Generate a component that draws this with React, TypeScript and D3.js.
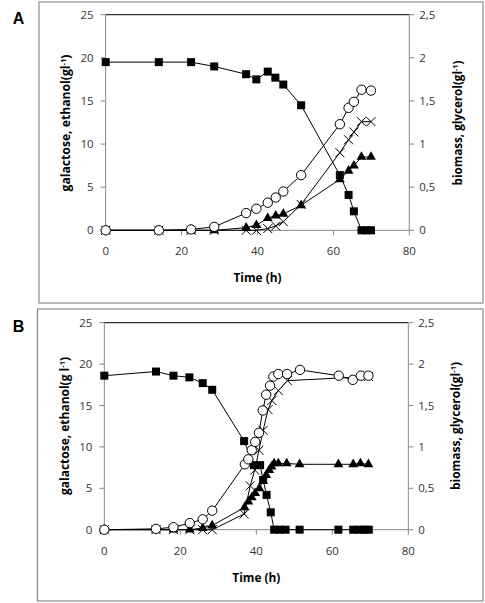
import React from "react";
import * as d3 from "d3";

// ---------- Panel A data ----------
const timeA_gal = [0, 14, 22.5, 28.6, 37, 39.7, 42.7, 44.7, 46.8, 51.5, 61.7, 64, 65.4, 67.4, 68.7, 69.9];
const galactoseA = [19.5, 19.5, 19.5, 19.0, 18.1, 17.5, 18.4, 17.7, 16.9, 14.5, 6.4, 4.1, 2.2, 0, 0, 0];
const timeA = [0, 14, 22.5, 28.6, 37, 39.7, 42.7, 44.8, 46.8, 51.5, 61.7, 64, 65.4, 67.4, 69.9];
const ethanolA = [0, 0, 0, 0, 0.3, 0.6, 1.4, 1.7, 1.9, 2.9, 5.9, 6.9, 7.5, 8.5, 8.5];
const biomassA = [0, 0, 0.01, 0.04, 0.2, 0.25, 0.32, 0.38, 0.45, 0.64, 1.23, 1.42, 1.49, 1.63, 1.62];
const glycerolA = [0, 0, 0, 0, 0, 0, 0.02, 0.05, 0.1, 0.3, 0.9, 1.05, 1.14, 1.26, 1.26];

// ---------- Panel B data ----------
const timeB_gal = [0, 13.6, 18.2, 22.4, 25.9, 28.4, 36.8, 39.4, 41, 41.8, 42.7, 43.8, 44.7, 46.2, 47.7, 51.4, 61.6, 65.5, 67.2, 68.5, 69.6];
const galactoseB = [18.6, 19.1, 18.6, 18.4, 17.7, 16.9, 10.7, 7.8, 7.8, 6.0, 4.2, 2.1, 0, 0, 0, 0, 0, 0, 0, 0, 0];
const timeB_bio = [0, 13.6, 18.2, 22.5, 25.9, 28.4, 37, 37.9, 38.8, 39.7, 40.7, 41.7, 42.6, 43.6, 44.5, 45.8, 48.1, 51.5, 61.7, 65.4, 67.5, 69.5];
const biomassB = [0, 0.01, 0.03, 0.08, 0.125, 0.23, 0.79, 0.85, 0.96, 1.06, 1.17, 1.44, 1.63, 1.74, 1.85, 1.88, 1.88, 1.93, 1.86, 1.81, 1.86, 1.86];
const timeB_gly = [0, 13.6, 18.2, 22.5, 25.9, 28.4, 36.8, 38.4, 39.6, 40.7, 41.8, 43.1, 44.1, 45.8, 48.2, 69.5];
const glycerolB = [0, 0, 0, 0, 0, 0, 0.19, 0.53, 0.72, 0.96, 1.2, 1.45, 1.56, 1.68, 1.8, 1.85];
const timeB_eth = [0, 13.6, 18.2, 22.5, 25.9, 28.4, 36.9, 37.9, 38.8, 39.7, 40.8, 41.8, 42.6, 43.4, 44, 44.7, 45.8, 48, 51.4, 61.6, 65.5, 67.4, 69.5];
const ethanolB = [0, 0, 0, 0, 0.2, 0.5, 2.7, 3.4, 3.9, 4.4, 5.0, 5.9, 6.6, 7.2, 7.6, 8.0, 8.0, 8.0, 7.9, 7.9, 7.9, 8.0, 7.9];

// ---------- ticks ----------
const xTicks = [0, 20, 40, 60, 80];
const leftTicks = [0, 5, 10, 15, 20, 25];
const rightTicks = [0, 0.5, 1, 1.5, 2, 2.5];
const rightTickLabels = ["0", "0,5", "1", "1,5", "2", "2,5"];

const zip = (xs: number[], ys: number[]) => xs.map((x, i) => [x, ys[i]] as [number, number]);

const AXIS = "#868686";
const FONT = "'Open Sans', 'DejaVu Sans', sans-serif";

type PanelProps = {
  letter: string;
  box: [number, number, number, number];
  x0: number; x1: number; yTop: number; yBot: number;
  gal: [number, number][];
  eth: [number, number][];
  bio: [number, number][];
  gly: [number, number][];
  leftTitle: string; leftLen: number; leftX: number;
  rightTitle: string; rightLen: number; rightX: number;
  titleY: number;
};

function Panel(p: PanelProps) {
  const x = d3.scaleLinear().domain([0, 80]).range([p.x0, p.x1]);
  const yL = d3.scaleLinear().domain([0, 25]).range([p.yBot, p.yTop]);
  const yR = d3.scaleLinear().domain([0, 2.5]).range([p.yBot, p.yTop]);
  const lineL = d3.line<[number, number]>().x((d) => x(d[0])).y((d) => yL(d[1]));
  const lineR = d3.line<[number, number]>().x((d) => x(d[0])).y((d) => yR(d[1]));
  const tri = d3.symbol().type(d3.symbolTriangle).size(42)() as string;
  const cross = "M-4.5,-4.5L4.5,4.5M-4.5,4.5L4.5,-4.5";
  const midX = (p.x0 + p.x1) / 2;

  return (
    <g>
      <rect x={p.box[0]} y={p.box[1]} width={p.box[2]} height={p.box[3]} fill="none" stroke="#8a8a8a" strokeWidth={1.2} />
      <text x={18.5} y={p.yTop + 9.5} textAnchor="middle" fontFamily="Arial, 'Liberation Sans', sans-serif" fontWeight="bold" fontSize={16} fill="#000">{p.letter}</text>

      {/* axes */}
      <line x1={p.x0} x2={p.x1} y1={p.yTop} y2={p.yTop} stroke="#000" strokeWidth={1} />
      <line x1={p.x0} x2={p.x0} y1={p.yTop} y2={p.yBot} stroke={AXIS} strokeWidth={1} />
      <line x1={p.x1} x2={p.x1} y1={p.yTop} y2={p.yBot} stroke={AXIS} strokeWidth={1} />
      <line x1={p.x0} x2={p.x1} y1={p.yBot} y2={p.yBot} stroke={AXIS} strokeWidth={1} />
      {leftTicks.map((t) => (
        <g key={"l" + t}>
          <line x1={p.x0 - 5} x2={p.x0} y1={yL(t)} y2={yL(t)} stroke={AXIS} />
          <text x={p.x0 - 12} y={yL(t) + 4} textAnchor="end" fontFamily={FONT} fontSize={11.5} fill="#333">{t}</text>
        </g>
      ))}
      {rightTicks.map((t, i) => (
        <g key={"r" + t}>
          <line x1={p.x1} x2={p.x1 + 5} y1={yR(t)} y2={yR(t)} stroke={AXIS} />
          <text x={p.x1 + 10} y={yR(t) + 4} textAnchor="start" fontFamily={FONT} fontSize={11.5} fill="#333">{rightTickLabels[i]}</text>
        </g>
      ))}
      {xTicks.map((t) => (
        <g key={"x" + t}>
          <line x1={x(t)} x2={x(t)} y1={p.yBot} y2={p.yBot + 5} stroke={AXIS} />
          <text x={x(t)} y={p.yBot + 25} textAnchor="middle" fontFamily={FONT} fontSize={11.5} fill="#333">{t}</text>
        </g>
      ))}
      <text x={midX} y={p.yBot + 52} textAnchor="middle" fontFamily={FONT} fontWeight="bold" fontSize={12.5} textLength={48} lengthAdjust="spacingAndGlyphs" fill="#000">Time (h)</text>
      <text transform={`translate(${p.leftX},${p.titleY}) rotate(-90)`} textAnchor="middle" fontFamily={FONT} fontWeight="bold" fontSize={12} textLength={p.leftLen} lengthAdjust="spacingAndGlyphs" fill="#000">
        {p.leftTitle}<tspan fontSize={7.5} dy={-4}>-1</tspan><tspan dy={4}>)</tspan>
      </text>
      <text transform={`translate(${p.rightX},${p.titleY}) rotate(-90)`} textAnchor="middle" fontFamily={FONT} fontWeight="bold" fontSize={12} textLength={p.rightLen} lengthAdjust="spacingAndGlyphs" fill="#000">
        {p.rightTitle}<tspan fontSize={7.5} dy={-4}>-1</tspan><tspan dy={4}>)</tspan>
      </text>

      {/* galactose: squares */}
      <path d={lineL(p.gal) as string} fill="none" stroke="#000" strokeWidth={1} />
      {p.gal.map((d, i) => (
        <rect key={"g" + i} x={x(d[0]) - 4} y={yL(d[1]) - 4} width={8} height={8} fill="#000" />
      ))}
      {/* ethanol: triangles */}
      <path d={lineL(p.eth) as string} fill="none" stroke="#000" strokeWidth={1} />
      {p.eth.map((d, i) => (
        <path key={"e" + i} d={tri} transform={`translate(${x(d[0])},${yL(d[1])})`} fill="#000" />
      ))}
      {/* glycerol: crosses */}
      <path d={lineR(p.gly) as string} fill="none" stroke="#000" strokeWidth={1} />
      {p.gly.map((d, i) => (
        <path key={"y" + i} d={cross} transform={`translate(${x(d[0])},${yR(d[1])})`} fill="none" stroke="#000" strokeWidth={1} />
      ))}
      {/* biomass: open circles */}
      <path d={lineR(p.bio) as string} fill="none" stroke="#000" strokeWidth={1} />
      {p.bio.map((d, i) => (
        <circle key={"b" + i} cx={x(d[0])} cy={yR(d[1])} r={4.7} fill="#fff" stroke="#000" strokeWidth={1} />
      ))}
    </g>
  );
}

export default function App() {
  return (
    <svg width={485} height={603} style={{ position: "absolute", left: 0, top: 0, background: "#fff" }}>
      <rect width={485} height={603} fill="#fff" />
      <Panel
        letter="A"
        box={[39, 2, 444, 301]}
        x0={105.7} x1={409.3} yTop={14.7} yBot={230.3}
        gal={zip(timeA_gal, galactoseA)}
        eth={zip(timeA, ethanolA)}
        bio={zip(timeA, biomassA)}
        gly={zip(timeA, glycerolA)}
        leftTitle="galactose, ethanol(gl" leftLen={137} leftX={69.5}
        rightTitle="biomass, glycerol(gl" rightLen={125} rightX={461.5}
        titleY={123}
      />
      <Panel
        letter="B"
        box={[37.5, 309, 445.5, 292]}
        x0={104.3} x1={408.3} yTop={322.7} yBot={529.7}
        gal={zip(timeB_gal, galactoseB)}
        eth={zip(timeB_eth, ethanolB)}
        bio={zip(timeB_bio, biomassB)}
        gly={zip(timeB_gly, glycerolB)}
        leftTitle="galactose, ethanol(g l" leftLen={138} leftX={68.5}
        rightTitle="biomass, glycerol(gl" rightLen={128} rightX={459.5}
        titleY={426}
      />
    </svg>
  );
}
